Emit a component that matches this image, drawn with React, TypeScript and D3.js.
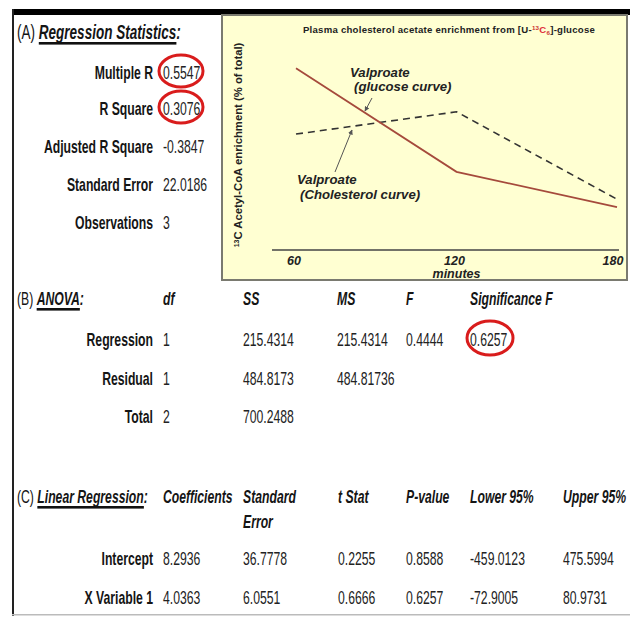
import React from "react";
import * as d3 from "d3";

// ---- Data ----
const statLabels = ["Multiple R", "R Square", "Adjusted R Square", "Standard Error", "Observations"];
const statValues = ["0.5547", "0.3076", "-0.3847", "22.0186", "3"];
const statCircled = [true, true, false, false, false];

const anovaHeaders = ["df", "SS", "MS", "F", "Significance F"];
const anovaRowLabels = ["Regression", "Residual", "Total"];
const anovaDf = ["1", "1", "2"];
const anovaSS = ["215.4314", "484.8173", "700.2488"];
const anovaMS = ["215.4314", "484.81736", ""];
const anovaF = ["0.4444", "", ""];
const anovaSig = ["0.6257", "", ""];

const regHeaders = ["Coefficients", "Standard", "t Stat", "P-value", "Lower 95%", "Upper 95%"];
const regRowLabels = ["Intercept", "X Variable 1"];
const regCoef = ["8.2936", "4.0363"];
const regSE = ["36.7778", "6.0551"];
const regT = ["0.2255", "0.6666"];
const regP = ["0.8588", "0.6257"];
const regLower = ["-459.0123", "-72.9005"];
const regUpper = ["475.5994", "80.9731"];

const minutes = [60, 120, 180];
const glucoseCurve = [4.33, 1.86, 1.02];
const cholesterolCurve = [2.76, 3.29, 1.21];

const ARIAL = "'Liberation Sans', Arial, sans-serif";
const SX = 0.66;
const FS = 18.5;

let canvasCtx: CanvasRenderingContext2D | null = null;
function measure(txt: string, font: string): number {
  if (!canvasCtx) {
    const c = document.createElement("canvas");
    canvasCtx = c.getContext("2d");
  }
  if (!canvasCtx) return txt.length * 8;
  canvasCtx.font = font;
  return canvasCtx.measureText(txt).width;
}

function NText(props: {
  x: number;
  y: number;
  children: React.ReactNode;
  anchor?: string;
  bold?: boolean;
  italic?: boolean;
  size?: number;
  fill?: string;
}) {
  const { x, y, children, anchor = "start", bold = false, italic = false, size = FS, fill = "#151515" } = props;
  return (
    <text
      transform={`translate(${x},${y}) scale(${SX},1)`}
      textAnchor={anchor}
      fontFamily={ARIAL}
      fontWeight={bold ? "bold" : "normal"}
      fontStyle={italic ? "italic" : "normal"}
      fontSize={size}
      fill={fill}
    >
      {children}
    </text>
  );
}

function SectionTitle(props: { x: number; y: number; tag: string; title: string; size: number }) {
  const { x, y, tag, title, size } = props;
  const tagW = measure(tag + " ", `${size}px 'Liberation Sans'`) * SX;
  const titleW = measure(title.replace(/:$/, ""), `italic bold ${size}px 'Liberation Sans'`) * SX;
  return (
    <g>
      <NText x={x} y={y} size={size}>
        {tag}{" "}
        <tspan fontWeight="bold" fontStyle="italic">{title}</tspan>
      </NText>
      <rect x={x + tagW} y={y + 3} width={titleW} height={2.6} fill="#111" />
    </g>
  );
}

const annot = { fontFamily: ARIAL, fontWeight: "bold", fontStyle: "italic", fontSize: 13.2, fill: "#222" } as const;

export default function App() {
  const x = d3.scaleLinear().domain([60, 180]).range([296, 617]);
  const y = d3.scaleLinear().domain([0, 5]).range([250, 40]);
  const line = d3
    .line<number>()
    .x((_, i) => x(minutes[i]))
    .y((d) => y(d));

  const labelRight = 153;
  const valX = 163;
  const statY = [72, 108, 146, 184, 222];

  const anovaCols = [163, 243, 337, 406, 470];
  const anovaY = [339, 378, 416];

  const regCols = [163, 243, 338, 406, 470, 563];
  const regY = [558, 597];
  const regData = [regCoef, regSE, regT, regP, regLower, regUpper];
  const anovaData = [anovaDf, anovaSS, anovaMS, anovaF, anovaSig];

  return (
    <svg
      width={630}
      height={620}
      style={{ position: "absolute", left: 0, top: 0, background: "#fff" }}
    >
      <defs>
        <marker id="arr" viewBox="0 0 10 10" refX="9" refY="5" markerWidth="5" markerHeight="5" orient="auto">
          <path d="M0,0 L10,5 L0,10 z" fill="#555" />
        </marker>
      </defs>
      {/* frame */}
      <rect x={12} y={9} width={618} height={6} fill="#000" />
      <rect x={12} y={9} width={2} height={607} fill="#222" />
      <rect x={12} y={614} width={618} height={1.5} fill="#bbb" />

      {/* Section A */}
      <SectionTitle x={17} y={39} tag="(A)" title="Regression Statistics:" size={20.5} />
      {statLabels.map((l, i) => (
        <g key={l}>
          <NText x={labelRight} y={statY[i] + 6.5} anchor="end" bold>
            {l}
          </NText>
          <NText x={valX} y={statY[i] + 6.5} fill="#222">
            {statValues[i]}
          </NText>
          {statCircled[i] && (
            <ellipse cx={181} cy={statY[i] - 1} rx={22} ry={16} fill="none" stroke="#d91c1c" strokeWidth={3} />
          )}
        </g>
      ))}

      {/* Chart panel */}
      <rect x={222} y={15} width={405} height={265} fill="#ffffd2" stroke="#7a7a70" strokeWidth={2} />
      <text x={449} y={33} textAnchor="middle" fontFamily={ARIAL} fontWeight="bold" fontSize={9.6} letterSpacing={0.25} fill="#222">
        Plasma cholesterol acetate enrichment from [U-
        <tspan fontSize={6.2} dy={-3.5} fill="#c33">13</tspan>
        <tspan fill="#e0303a" dy={3.5}>C</tspan>
        <tspan fontSize={6.2} dy={2} fill="#c33">6</tspan>
        <tspan dy={-2}>]-glucose</tspan>
      </text>
      <text
        transform="translate(242,145) rotate(-90)"
        textAnchor="middle"
        fontFamily={ARIAL}
        fontWeight="bold"
        fontSize={11.3}
        fill="#222"
      >
        <tspan fontSize={7} dy={-3.5}>13</tspan>
        <tspan dy={3.5}>C Acetyl-CoA enrichment (% of total)</tspan>
      </text>
      <line x1={272} x2={619} y1={250} y2={250} stroke="#444" strokeWidth={1.5} />
      {minutes.map((m) => (
        <text key={m} x={x(m) - (m === 180 ? 4 : 2)} y={265} textAnchor="middle" {...annot} fontSize={12.5}>
          {m}
        </text>
      ))}
      <text x={x(120)} y={277.5} textAnchor="middle" {...annot} fontSize={12.5}>
        minutes
      </text>
      <path d={line(cholesterolCurve) || ""} fill="none" stroke="#333" strokeWidth={1.6} strokeDasharray="7,5" />
      <path d={line(glucoseCurve) || ""} fill="none" stroke="#a54a3c" strokeWidth={1.8} />

      <text x={350} y={77} {...annot}>
        Valproate
      </text>
      <text x={354} y={91} {...annot}>
        (glucose curve)
      </text>
      <line x1={372} y1={98} x2={365} y2={111} stroke="#555" strokeWidth={1} markerEnd="url(#arr)" />
      <text x={297} y={184} {...annot}>
        Valproate
      </text>
      <text x={300} y={199} {...annot}>
        (Cholesterol curve)
      </text>
      <line x1={335} y1={172} x2={352} y2={130} stroke="#555" strokeWidth={1} markerEnd="url(#arr)" />

      {/* Section B */}
      <SectionTitle x={17} y={305} tag="(B)" title="ANOVA:" size={FS} />
      {anovaHeaders.map((h, i) => (
        <NText key={h} x={anovaCols[i]} y={305} bold italic>
          {h}
        </NText>
      ))}
      {anovaRowLabels.map((l, r) => (
        <g key={l}>
          <NText x={labelRight} y={anovaY[r] + 6.5} anchor="end" bold>
            {l}
          </NText>
          {anovaData.map((col, c) => (
            <NText key={c} x={anovaCols[c]} y={anovaY[r] + 6.5} fill="#222">
              {col[r]}
            </NText>
          ))}
        </g>
      ))}
      <ellipse cx={490} cy={338} rx={23} ry={17} fill="none" stroke="#d91c1c" strokeWidth={3} />

      {/* Section C */}
      <SectionTitle x={17} y={503} tag="(C)" title="Linear Regression:" size={FS} />
      {regHeaders.map((h, i) => (
        <NText key={h} x={regCols[i]} y={503} bold italic>
          {h}
        </NText>
      ))}
      <NText x={regCols[1]} y={528} bold italic>
        Error
      </NText>
      {regRowLabels.map((l, r) => (
        <g key={l}>
          <NText x={labelRight} y={regY[r] + 6.5} anchor="end" bold>
            {l}
          </NText>
          {regData.map((col, c) => (
            <NText key={c} x={regCols[c]} y={regY[r] + 6.5} fill="#222">
              {col[r]}
            </NText>
          ))}
        </g>
      ))}
    </svg>
  );
}
